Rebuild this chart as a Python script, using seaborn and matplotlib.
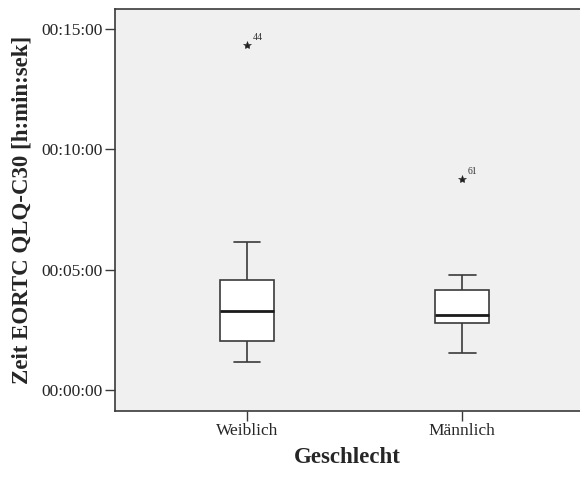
import numpy as np
import pandas as pd
import matplotlib
matplotlib.use("Agg")
import matplotlib.pyplot as plt
from matplotlib.ticker import FuncFormatter
import seaborn as sns

# durations in seconds (min, Q1, median, Q3, whisker, outlier)
weiblich = [71, 100, 122.5, 160, 197.5, 240, 275, 370, 860]
maennlich = [92, 130, 167, 180, 188, 220, 250, 287.5, 525]
groups = ["Weiblich", "Männlich"]
outlier_ids = {"Weiblich": "44", "Männlich": "61"}
yticks = [0, 300, 600, 900]

df = pd.DataFrame({
    "Geschlecht": ["Weiblich"] * len(weiblich) + ["Männlich"] * len(maennlich),
    "Zeit": weiblich + maennlich,
})

sns.set_style("white")
plt.rcParams["font.family"] = ["Liberation Serif", "DejaVu Serif"]

line_c = "#3a3a3a"
fig = plt.figure(figsize=(5.8, 4.79), dpi=100)
ax = fig.add_axes([115 / 580, 1 - 410.5 / 479, 1 - 115 / 580, (410.5 - 9) / 479])
ax.set_facecolor("#f0f0f0")

sns.boxplot(
    data=df, x="Geschlecht", y="Zeit", order=groups, ax=ax, width=0.25,
    color="white", linecolor=line_c, linewidth=1.2, whis=1.5,
    medianprops=dict(color="#1a1a1a", linewidth=2),
    flierprops=dict(marker="*", markersize=6, markerfacecolor="#222222",
                    markeredgecolor="#222222", markeredgewidth=0.4),
    capprops=dict(color=line_c, linewidth=1.2),
)

# outlier case numbers, like SPSS
for i, g in enumerate(groups):
    vals = np.array(df.loc[df["Geschlecht"] == g, "Zeit"])
    q1, q3 = np.percentile(vals, [25, 75])
    for v in vals[vals > q3 + 1.5 * (q3 - q1)]:
        ax.annotate(outlier_ids[g], (i, v), xytext=(4, 4), textcoords="offset points",
                    fontsize=7, color="#333333")

ax.set_xlim(-0.613, 1.547)
ax.set_ylim(-51, 950)
ax.set_yticks(yticks)
ax.yaxis.set_major_formatter(FuncFormatter(
    lambda s, p: "%02d:%02d:%02d" % (s // 3600, (s % 3600) // 60, s % 60)))

for side in ["left", "bottom", "top"]:
    ax.spines[side].set_color(line_c)
    ax.spines[side].set_linewidth(1.2)
ax.spines["right"].set_visible(False)
ax.tick_params(axis="both", which="major", length=7, width=1.0, color=line_c,
               labelsize=12.5, left=True, bottom=True, pad=2)

ax.set_xlabel("Geschlecht", fontsize=16.5, fontweight="bold", labelpad=6)
ax.set_ylabel("Zeit EORTC QLQ-C30 [h:min:sek]", fontsize=16.5, fontweight="bold", labelpad=6)

fig.savefig("out.png", dpi=100, facecolor="white")
